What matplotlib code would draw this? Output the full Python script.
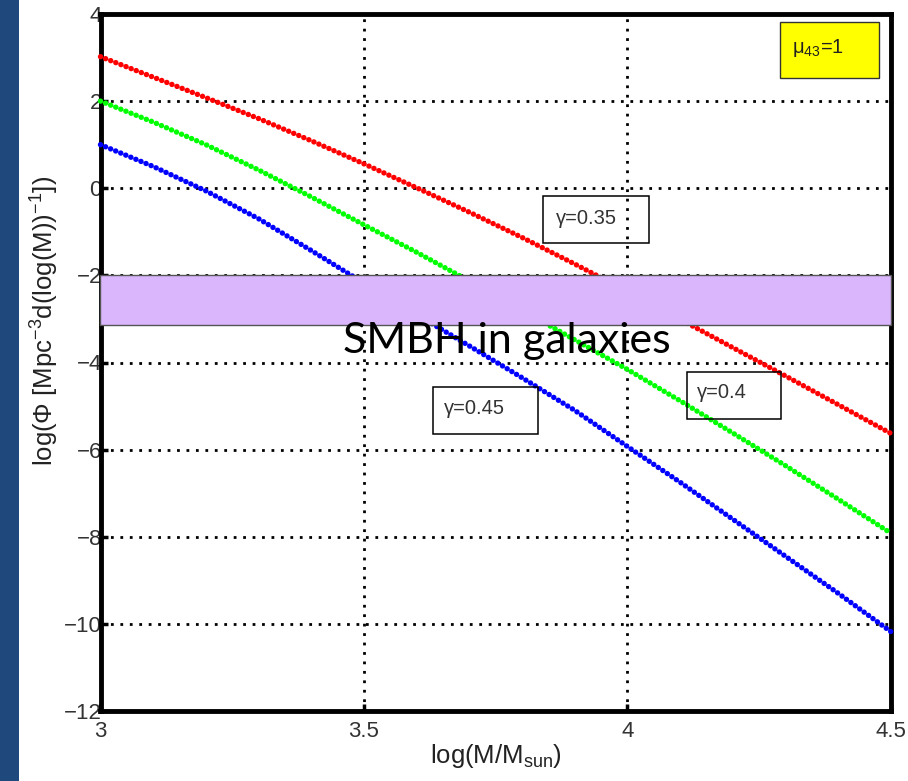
import matplotlib
matplotlib.use("Agg")
import matplotlib.pyplot as plt
from matplotlib.patches import Rectangle

plt.rcParams['font.family'] = ['Liberation Sans', 'DejaVu Sans']
plt.rcParams['mathtext.fontset'] = 'custom'
plt.rcParams['mathtext.rm'] = 'Liberation Sans'
plt.rcParams['mathtext.it'] = 'Liberation Sans'
plt.rcParams['mathtext.bf'] = 'Liberation Sans:bold'

# ---- data ----
log_mass = [3.0, 3.1, 3.2, 3.3, 3.4, 3.5, 3.6, 3.7, 3.8, 3.9, 4.0, 4.1, 4.2, 4.3, 4.4, 4.5]
phi_gamma_035 = [3.02, 2.55, 2.08, 1.60, 1.09, 0.56, 0.01, -0.55, -1.13, -1.74, -2.37, -3.01, -3.66, -4.31, -4.97, -5.63]
phi_gamma_040 = [2.00, 1.52, 1.00, 0.42, -0.20, -0.84, -1.47, -2.13, -2.80, -3.48, -4.16, -4.88, -5.62, -6.37, -7.14, -7.92]
phi_gamma_045 = [1.00, 0.50, -0.06, -0.70, -1.43, -2.18, -2.90, -3.62, -4.35, -5.10, -5.93, -6.75, -7.60, -8.45, -9.30, -10.18]
series_colors = ['#ff0000', '#00ff00', '#0000ff']
gamma_labels = ['\u03b3=0.35', '\u03b3=0.4', '\u03b3=0.45']

band_low, band_high = -3.14, -2.0
band_label = 'SMBH in galaxies'
mu_label = '\u03bc$_{43}$=1'

x_ticks = [3, 3.5, 4, 4.5]
x_tick_labels = ['3', '3.5', '4', '4.5']
y_ticks = [-12, -10, -8, -6, -4, -2, 0, 2, 4]
y_tick_labels = ['\u221212', '\u221210', '\u22128', '\u22126', '\u22124', '\u22122', '0', '2', '4']

W, H = 908, 781
fig = plt.figure(figsize=(W / 100, H / 100), dpi=100)
fig.patch.set_facecolor('white')
# dark blue strip on the left
fig.patches.append(Rectangle((0, 0), 19 / W, 1, transform=fig.transFigure,
                             facecolor='#1f497d', edgecolor='none', zorder=0))

ax = fig.add_axes([100.5 / W, (H - 711) / H, (891 - 100.5) / W, (711 - 14) / H])
ax.set_xlim(3, 4.5)
ax.set_ylim(-12, 4)

for s in ax.spines.values():
    s.set_linewidth(3.5)
    s.set_color('black')

ax.set_xticks(x_ticks)
ax.set_xticklabels(x_tick_labels)
ax.set_yticks(y_ticks)
ax.set_yticklabels(y_tick_labels)
ax.tick_params(direction='in', length=5, width=2.5, labelsize=16,
               labelcolor='#333333', top=False, right=False)
ax.tick_params(axis='x', pad=7.5)
ax.tick_params(axis='y', pad=-1)

ax.grid(True, color='black', linewidth=2.0, linestyle=(0, (1, 2.4)), zorder=1)
ax.set_axisbelow(True)

for ys, c in zip([phi_gamma_035, phi_gamma_040, phi_gamma_045], series_colors):
    ax.plot(log_mass, ys, color=c, lw=3.9, linestyle=(0, (0.01, 1.0)),
            dash_capstyle='round', zorder=3, clip_on=False)

# band
band = Rectangle((3.0, band_low), 1.5, band_high - band_low, facecolor='#dab6fc',
                 edgecolor='#555555', linewidth=1.0, zorder=5, clip_on=False)
ax.add_patch(band)
ax.text(3.4602, -3.78, band_label, fontsize=31, family=['Lato', 'DejaVu Sans'],
        color='black', ha='left', va='baseline', zorder=6)

# gamma boxes (transparent)
boxes = [
    (3.8396, -1.257, 0.2012, 1.079, 3.864, -0.683),
    (4.113, -5.298, 0.178, 1.079, 4.132, -4.70),
    (3.631, -5.642, 0.199, 1.079, 3.652, -5.045),
]
for (bx, by, bw, bh, tx, ty), lab in zip(boxes, gamma_labels):
    ax.add_patch(Rectangle((bx, by), bw, bh, facecolor='none', edgecolor='black',
                           linewidth=1.1, zorder=4))
    ax.text(tx, ty, lab, fontsize=14.5, color='#333333', ha='left', va='center', zorder=4)

# yellow mu box
ax.add_patch(Rectangle((4.289, 2.531), 0.188, 1.285, facecolor='#ffff00',
                       edgecolor='#333333', linewidth=1.0, zorder=4))
ax.text(4.312, 3.22, mu_label, fontsize=14.5, color='#222222', ha='left', va='center', zorder=5)

ax.set_xlabel('log(M/M$_{\\mathrm{sun}}$)', fontsize=18.5, color='#222222', labelpad=0)
ax.set_ylabel('log(\u03a6 [Mpc$^{-3}$d(log(M))$^{-1}$])', fontsize=18.5, color='#222222')
ax.yaxis.set_label_coords(-0.05, 0.56)

fig.savefig('out.png', dpi=100)
